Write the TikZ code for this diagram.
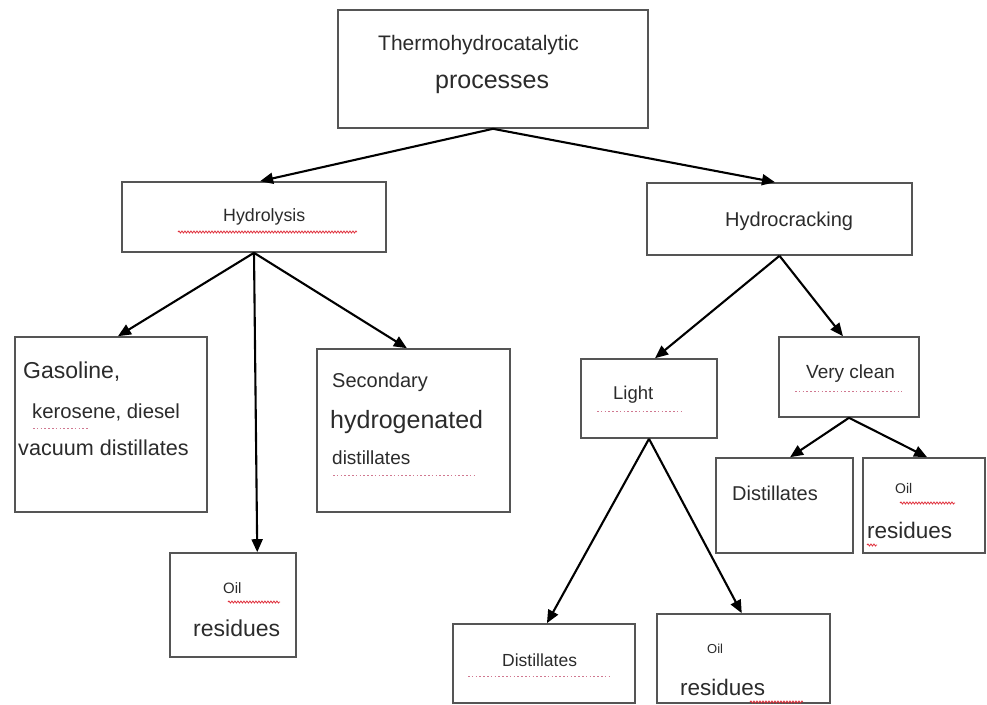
\documentclass[tikz,border=0pt]{standalone}
\usepackage{fontspec}
\setmainfont{Liberation Sans}
\usetikzlibrary{arrows.meta,calc,decorations.pathmorphing}
\definecolor{txt}{HTML}{2B2B2B}
\definecolor{edgec}{HTML}{555555}
\definecolor{spell}{HTML}{E0303C}
\definecolor{dotc}{HTML}{D07890}
\newcommand{\fsz}[1]{\fontsize{#1}{#1}\selectfont}
\begin{document}
\begin{tikzpicture}[x=1pt,y=-1pt,
 box/.style={draw=edgec,line width=1.6pt,fill=white,inner sep=0pt,rectangle},
 lbl/.style={text=txt,inner sep=0pt,anchor=west},
 arr/.style={draw=black,line width=2.1pt,-{Triangle[length=13pt,width=11pt]}},
 wavy/.style={draw=spell,line width=0.8pt,decorate,decoration={snake,segment length=3pt,amplitude=1pt}},
 dotl/.style={draw=dotc,line width=1pt,dash pattern=on 1.6pt off 2.2pt}]
\useasboundingbox (0,0) rectangle (987,704);
\fill[white] (0,0) rectangle (987,704);

% boxes
\node[box,minimum width=310pt,minimum height=118pt] (top) at (493,69) {};
\node[box,minimum width=264pt,minimum height=70pt] (hyd) at (254,217) {};
\node[box,minimum width=265pt,minimum height=72pt] (hcr) at (779.5,219) {};
\node[box,minimum width=192pt,minimum height=175pt] (gas) at (111,424.5) {};
\node[box,minimum width=193pt,minimum height=163pt] (sec) at (413.5,430.5) {};
\node[box,minimum width=126pt,minimum height=104pt] (oila) at (233,605) {};
\node[box,minimum width=136pt,minimum height=79pt] (light) at (649,398.5) {};
\node[box,minimum width=140pt,minimum height=80pt] (vclean) at (849,377) {};
\node[box,minimum width=137pt,minimum height=95pt] (dista) at (784.5,505.5) {};
\node[box,minimum width=122pt,minimum height=95pt] (oilb) at (924,505.5) {};
\node[box,minimum width=182pt,minimum height=79pt] (distb) at (544,663.5) {};
\node[box,minimum width=173pt,minimum height=89pt] (oilc) at (743.5,658.5) {};

% texts
\node[lbl] (t1) at (378,45) {\fsz{21}Thermohydrocatalytic};
\node[lbl] (t2) at (435,84) {\fsz{25}processes};
\node[lbl] (t3) at (223,217) {\fsz{17.8}Hydrolysis};
\node[lbl] (t4) at (725,221) {\fsz{20}Hydrocracking};
\node[lbl] (t5) at (23,372) {\fsz{23}Gasoline,};
\node[lbl] (t6) at (32,412) {\fsz{20.3}kerosene, diesel};
\node[lbl] (t7) at (18,448) {\fsz{21.6}vacuum distillates};
\node[lbl] (t8) at (332,382) {\fsz{20}Secondary};
\node[lbl] (t9) at (330,422) {\fsz{25}hydrogenated};
\node[lbl] (t10) at (332,458) {\fsz{19}distillates};
\node[lbl] (t11) at (223,588) {\fsz{15}Oil};
\node[lbl] (t12) at (193,628) {\fsz{23}residues};
\node[lbl] (t13) at (613,395) {\fsz{18.5}Light};
\node[lbl] (t14) at (806,374) {\fsz{19}Very clean};
\node[lbl] (t15) at (732,493) {\fsz{20}Distillates};
\node[lbl] (t16) at (895,488) {\fsz{14}Oil};
\node[lbl] (t17) at (867,530) {\fsz{22.5}residues};
\node[lbl] (t18) at (502,660) {\fsz{17.5}Distillates};
\node[lbl] (t19) at (707,649) {\fsz{13}Oil};
\node[lbl] (t20) at (680,687) {\fsz{22.5}residues};

% spell-check marks
\draw[wavy] (178,232) -- (357,232);
\draw[dotl] (33,428) -- (88,428);
\draw[dotl] (333,475) -- (477,475);
\draw[wavy] (228,602) -- (280,602);
\draw[dotl] (597,411) -- (682,411);
\draw[dotl] (795,391) -- (902,391);
\draw[wavy] (900,503) -- (955,503);
\draw[wavy] (867,545) -- (877,545);
\draw[dotl] (468,676) -- (612,676);
\draw[wavy] (750,702) -- (803,702);

% connectors
\draw[arr] (top.south) -- ($(hyd.north west)!0.523!(hyd.north east)$);
\draw[arr] (top.south) -- ($(hcr.north west)!0.483!(hcr.north east)$);
\draw[arr] (hyd.south) -- ($(gas.north west)!0.536!(gas.north east)$);
\draw[arr] (hyd.south) -- ($(oila.north west)!0.69!(oila.north east)$);
\draw[arr] (hyd.south) -- ($(sec.north west)!0.466!(sec.north east)$);
\draw[arr] (hcr.south) -- ($(light.north west)!0.544!(light.north east)$);
\draw[arr] (hcr.south) -- ($(vclean.north west)!0.457!(vclean.north east)$);
\draw[arr] (light.south) -- ($(distb.north west)!0.516!(distb.north east)$);
\draw[arr] (light.south) -- ($(oilc.north west)!0.49!(oilc.north east)$);
\draw[arr] (vclean.south) -- ($(dista.north west)!0.54!(dista.north east)$);
\draw[arr] (vclean.south) -- ($(oilb.north west)!0.525!(oilb.north east)$);
\end{tikzpicture}
\end{document}
